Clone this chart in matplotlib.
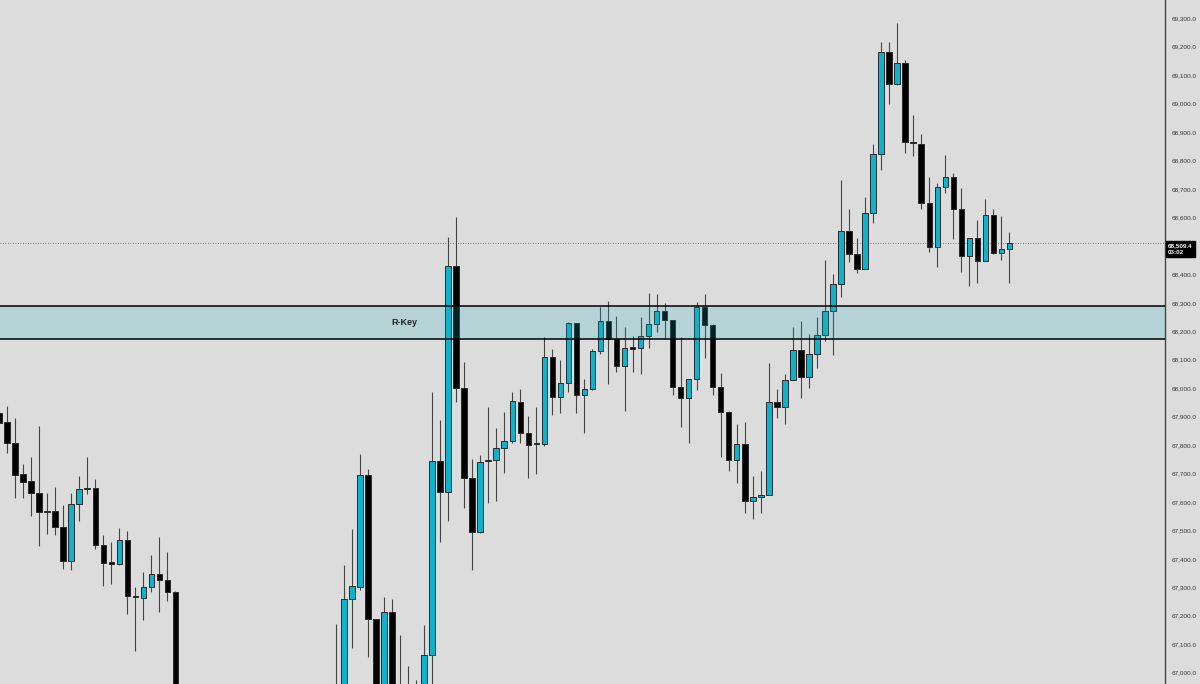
import numpy as np
import matplotlib
matplotlib.use("Agg")
import matplotlib.pyplot as plt
from matplotlib.patches import Rectangle

nan = np.nan

# candle OHLC; candles 23-41 sit fully below the visible range
opens = [67914, 67880, 67808, 67697, 67673, 67633, 67567, 67567, 67512, 67391,
         67594, 67648, 67650, 67450, 67385, 67381, 67466, 67268, 67264, 67300,
         67347, 67326, 67284] + [nan] * 19 + [
         66900, 66930, 67259, 67300, 67695, 67188, 66930, 67214, 66910, 66900,
         66930, 66940, 67062, 67744, 67634, 68430, 68002, 67685, 67495, 67745,
         67746, 67789, 67815, 67952, 67841, 67803, 67803, 68110, 67968, 68017,
         68228, 67977, 67996, 68130, 68235, 68173, 68079, 68140, 68140, 68182,
         68224, 68270, 68240, 68005, 67964, 68032, 68285, 68223, 68005, 67917,
         67747, 67804, 67604, 67617, 67625, 67950, 67933, 68029, 68134, 68038,
         68119, 68188, 68272, 68366, 68552, 68471, 68418, 68617, 68823, 69181,
         69068, 69142, 68866, 68858, 68650, 68497, 68706, 68741, 68629, 68466,
         68527, 68448, 68608, 68474, 68489]
highs = [67941, 67938, 67894, 67733, 67759, 67867, 67630, 67654, 67589, 67630,
         67691, 67757, 67681, 67484, 67460, 67507, 67498, 67300, 67353, 67414,
         67478, 67423, 67287] + [nan] * 19 + [
         67171, 67378, 67504, 67769, 67715, 67190, 67265, 67258, 67132, 67023,
         66974, 67168, 67988, 67888, 68532, 68601, 68091, 67750, 67765, 67933,
         67859, 67915, 67988, 67997, 67902, 67935, 68179, 68137, 68099, 68234,
         68229, 68032, 68137, 68285, 68306, 68255, 68214, 68183, 68250, 68333,
         68331, 68298, 68241, 68181, 68032, 68304, 68331, 68224, 68054, 67918,
         67874, 67882, 67691, 67709, 68087, 67997, 68050, 68216, 68235, 68190,
         68249, 68450, 68400, 68732, 68629, 68527, 68671, 68858, 69216, 69216,
         69285, 69153, 68959, 68893, 68743, 68720, 68820, 68757, 68703, 68527,
         68591, 68664, 68630, 68605, 68550]
lows = [67867, 67771, 67613, 67613, 67551, 67446, 67487, 67483, 67363, 67361,
        67534, 67627, 67434, 67305, 67312, 67380, 67205, 67077, 67185, 67285,
        67213, 67253, 66850] + [nan] * 19 + [
        66870, 66900, 67086, 67291, 67054, 66880, 66900, 66880, 66870, 66860,
        66880, 66900, 66940, 67460, 67534, 67952, 67578, 67361, 67490, 67597,
        67603, 67703, 67806, 67806, 67684, 67697, 67798, 67906, 67912, 67985,
        67912, 67843, 67994, 68120, 68015, 68058, 67921, 68058, 68051, 68141,
        68198, 68174, 67977, 67865, 67808, 67994, 68107, 67977, 67759, 67709,
        67666, 67560, 67539, 67560, 67624, 67894, 67874, 68028, 67965, 68002,
        68070, 68167, 68116, 68321, 68442, 68406, 68417, 68579, 68767, 68998,
        69067, 68826, 68816, 68630, 68480, 68425, 68687, 68523, 68409, 68360,
        68371, 68447, 68473, 68450, 68369]
closes = [67879, 67808, 67696, 67671, 67630, 67565, 67564, 67511, 67392, 67594,
          67646, 67645, 67448, 67385, 67383, 67466, 67269, 67266, 67301, 67347,
          67326, 67284, 66880] + [nan] * 19 + [
          66930, 67259, 67305, 67695, 67188, 66920, 67212, 66910, 66890, 66930,
          66940, 67062, 67744, 67634, 68430, 68002, 67685, 67495, 67740, 67743,
          67791, 67815, 67955, 67841, 67801, 67802, 68110, 67968, 68017, 68228,
          67977, 67996, 68131, 68235, 68173, 68079, 68140, 68139, 68182, 68224,
          68270, 68241, 68003, 67964, 68032, 68285, 68223, 68005, 67917, 67747,
          67804, 67604, 67618, 67626, 67950, 67933, 68029, 68134, 68038, 68119,
          68188, 68272, 68366, 68552, 68471, 68418, 68617, 68823, 69181, 69068,
          69142, 68866, 68861, 68650, 68497, 68706, 68741, 68629, 68466, 68527,
          68448, 68608, 68474, 68489, 68509.4]

zone_low, zone_high = 68173, 68289
zone_label = "R-Key"
last_price = 68509.4
countdown = "03:02"
# 68,500 is hidden behind the last-price tag on the reference
ticks = [t for t in range(67000, 69301, 100) if t != 68500]

bg = "#dcdcdc"
up_col = "#0db3cb"
dn_col = "#000000"
plt.rcParams["font.family"] = ["Liberation Sans", "DejaVu Sans"]

fig = plt.figure(figsize=(12, 6.84), dpi=100, facecolor=bg)
ax = fig.add_axes([0, 0, 1165 / 1200, 1])
ax.set_facecolor(bg)

for i, (o, h, l, c) in enumerate(zip(opens, highs, lows, closes)):
    if np.isnan(o):
        continue
    ax.vlines(i, l, h, color="#f2f2f2", lw=2.2, alpha=0.6, zorder=2)
    ax.vlines(i, l, h, color="#444444", lw=0.9, zorder=3)
    bottom = min(o, c)
    height = max(abs(c - o), 5)
    col = up_col if c > o else dn_col
    ax.add_patch(Rectangle((i - 0.34, bottom), 0.68, height, facecolor=col,
                           edgecolor="#2a2a2a", lw=0.7, zorder=4))

ax.axhspan(zone_low, zone_high, facecolor="#1aaebf", alpha=0.2, lw=0, zorder=5)
ax.axhline(zone_low, color="black", lw=1.1, zorder=6)
ax.axhline(zone_high, color="black", lw=1.1, zorder=6)
ax.text(50.6, (zone_low + zone_high) / 2, zone_label, ha="center", va="center",
        fontsize=6.5, fontweight="bold", color="#222222", zorder=7)

ax.axhline(last_price, color="#555555", lw=0.6, ls=(0, (1, 2)), zorder=1)
ax.text(1.0 + 3 / 1165, 68489, f"{last_price:,.1f}\n{countdown}", transform=ax.get_yaxis_transform(),
        ha="left", va="center", fontsize=4.5, color="white", fontweight="bold", linespacing=1.35,
        bbox=dict(boxstyle="square,pad=0.4", fc="black", ec="black"), clip_on=False, zorder=8)

ax.set_xlim(0.125, 145.4)
ax.set_ylim(66960, 69364.3)
ax.set_yticks(ticks)
ax.set_yticklabels([f"{t:,.1f}" for t in ticks])
ax.yaxis.tick_right()
ax.tick_params(axis="y", length=0, pad=4.5, labelsize=4.6, labelcolor="#333333")
ax.set_xticks([])
for s in ["left", "top", "bottom"]:
    ax.spines[s].set_visible(False)
ax.spines["right"].set_color("#444444")
ax.spines["right"].set_linewidth(1.0)

fig.savefig("out.png", dpi=100, facecolor=bg)
